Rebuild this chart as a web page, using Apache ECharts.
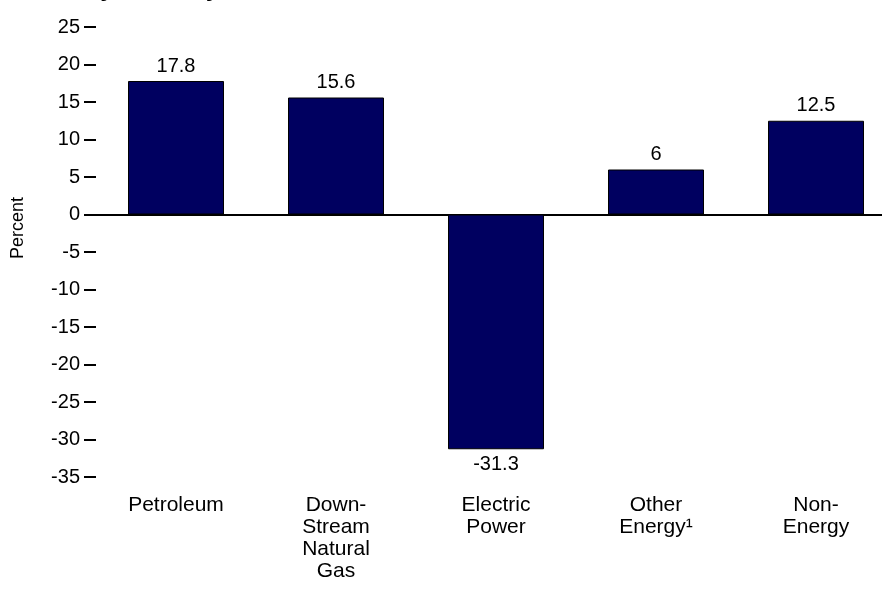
<!DOCTYPE html>
<html>
<head>
<meta charset="utf-8">
<script src="https://cdn.jsdelivr.net/npm/echarts@6/dist/echarts.min.js"></script>
<style>html,body{margin:0;padding:0;background:#fff;}#c{width:882px;height:599px;}</style>
</head>
<body>
<div id="c"></div>
<script>
var categories = ['Petroleum', 'Down-\nStream\nNatural\nGas', 'Electric\nPower', 'Other\nEnergy¹', 'Non-\nEnergy'];
var values = [17.8, 15.6, -31.3, 6, 12.5];
var yTicks = [25, 20, 15, 10, 5, 0, -5, -10, -15, -20, -25, -30, -35];
var titleText = 'by Industry,';
var yAxisName = 'Percent';

var font = 'Liberation Sans, Arial, sans-serif';
var chart = echarts.init(document.getElementById('c'), null, {renderer: 'canvas'});
var data = values.map(function (v) {
  return {value: v, label: {position: v < 0 ? 'bottom' : 'top'}};
});
chart.setOption({
  animation: false,
  backgroundColor: '#fff',
  graphic: [
    {type: 'text', left: 85, top: -23, style: {text: titleText, font: 'bold 25px ' + font, fill: '#000'}},
    {type: 'text', x: 18, y: 228, rotation: Math.PI / 2, style: {text: yAxisName, font: '18px ' + font, fill: '#000', align: 'center', verticalAlign: 'middle'}}
  ],
  grid: {left: 96, top: 27, right: -14, bottom: 122, containLabel: false, outerBoundsMode: 'none'},
  xAxis: [
    {type: 'category', data: categories, position: 'bottom',
     axisLine: {show: false, onZero: false}, axisTick: {show: false},
     axisLabel: {margin: 17, fontSize: 21, lineHeight: 22, color: '#000', fontFamily: font, interval: 0}},
    {type: 'category', data: categories, position: 'bottom',
     axisLine: {show: true, onZero: true, onZeroAxisIndex: 0, lineStyle: {color: '#000', width: 2}},
     axisTick: {show: false}, axisLabel: {show: false}}
  ],
  yAxis: {
    type: 'value', min: yTicks[yTicks.length - 1], max: yTicks[0], interval: 5,
    axisLine: {show: false},
    axisTick: {show: true, length: 12, lineStyle: {color: '#000', width: 2}},
    splitLine: {show: false},
    axisLabel: {margin: 16, fontSize: 20, color: '#000', fontFamily: font}
  },
  series: [{
    type: 'bar', xAxisIndex: 0, data: data, barWidth: '60%',
    itemStyle: {color: '#000060', borderColor: '#000', borderWidth: 1},
    label: {show: true, fontSize: 20, color: '#000', fontFamily: font, distance: 5}
  }]
});
</script>
</body>
</html>
